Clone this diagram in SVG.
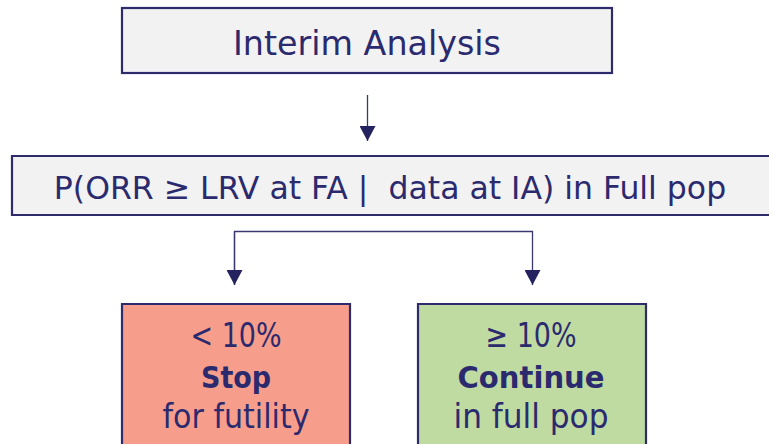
<svg xmlns="http://www.w3.org/2000/svg" width="769" height="444" viewBox="0 0 769 444">
  <style>
    .edge { fill: none; stroke: #2D2B6B; stroke-width: 2.2; }
    .framed { stroke: #2D2B6B; stroke-width: 2.2; }
    .grey { fill: #F2F2F2; }
    .stop { fill: #F79D8B; }
    .go { fill: #BFDBA2; }
    .lbl { font-family: "DejaVu Sans", "Liberation Sans", sans-serif; fill: #2B2A6E; text-anchor: middle; white-space: pre; }
    .b { font-weight: bold; }
    .link { fill: none; stroke: #3A3870; stroke-width: 1.3; }
  </style>
  <defs>
    <marker id="head" markerWidth="16" markerHeight="16" refX="15" refY="8" orient="auto" markerUnits="userSpaceOnUse">
      <path d="M0,0 L15,8 L0,16 Z" fill="#25235F"/>
    </marker>
  </defs>
  <rect width="769" height="444" fill="#FFFFFF"/>

  <g id="interim-analysis">
    <rect class="grey framed" x="122" y="8" width="490" height="65"/>
    <text class="lbl" x="367" y="55" font-size="34" textLength="268" lengthAdjust="spacingAndGlyphs">Interim Analysis</text>
  </g>

  <g id="conditional-probability">
    <!-- box runs on past the right edge of the page, so only three sides show -->
    <rect class="grey" x="12" y="156" width="757" height="59"/>
    <path class="edge" d="M769,156 H12 V215 H769"/>
    <text class="lbl" x="390" y="199" font-size="31.5">P(ORR ≥ LRV at FA |  data at IA) in Full pop</text>
  </g>

  <g id="stop-futility">
    <!-- bottom edge falls below the page -->
    <rect class="stop" x="122" y="304" width="228" height="140"/>
    <path class="edge" d="M122,444 V304 H350 V444"/>
    <text class="lbl" x="236" y="347" font-size="33" textLength="91" lengthAdjust="spacingAndGlyphs">&lt; 10%</text>
    <text class="lbl b" x="236" y="388" font-size="31" textLength="70" lengthAdjust="spacingAndGlyphs">Stop</text>
    <text class="lbl" x="236" y="428" font-size="33" textLength="147" lengthAdjust="spacingAndGlyphs">for futility</text>
  </g>

  <g id="continue-full">
    <rect class="go" x="418" y="304" width="228" height="140"/>
    <path class="edge" d="M418,444 V304 H646 V444"/>
    <text class="lbl" x="531" y="347" font-size="33" textLength="91" lengthAdjust="spacingAndGlyphs">≥ 10%</text>
    <text class="lbl b" x="531" y="388" font-size="31" textLength="147" lengthAdjust="spacingAndGlyphs">Continue</text>
    <text class="lbl" x="531" y="428" font-size="33" textLength="155" lengthAdjust="spacingAndGlyphs">in full pop</text>
  </g>

  <g id="connectors">
    <path class="link" d="M367.5,95 V141" marker-end="url(#head)"/>
    <path class="link" d="M234.5,285 V231.5 H532.5 V285" marker-end="url(#head)"/>
    <path class="link" d="M234.5,231.5 V285" marker-end="url(#head)"/>
  </g>
</svg>
